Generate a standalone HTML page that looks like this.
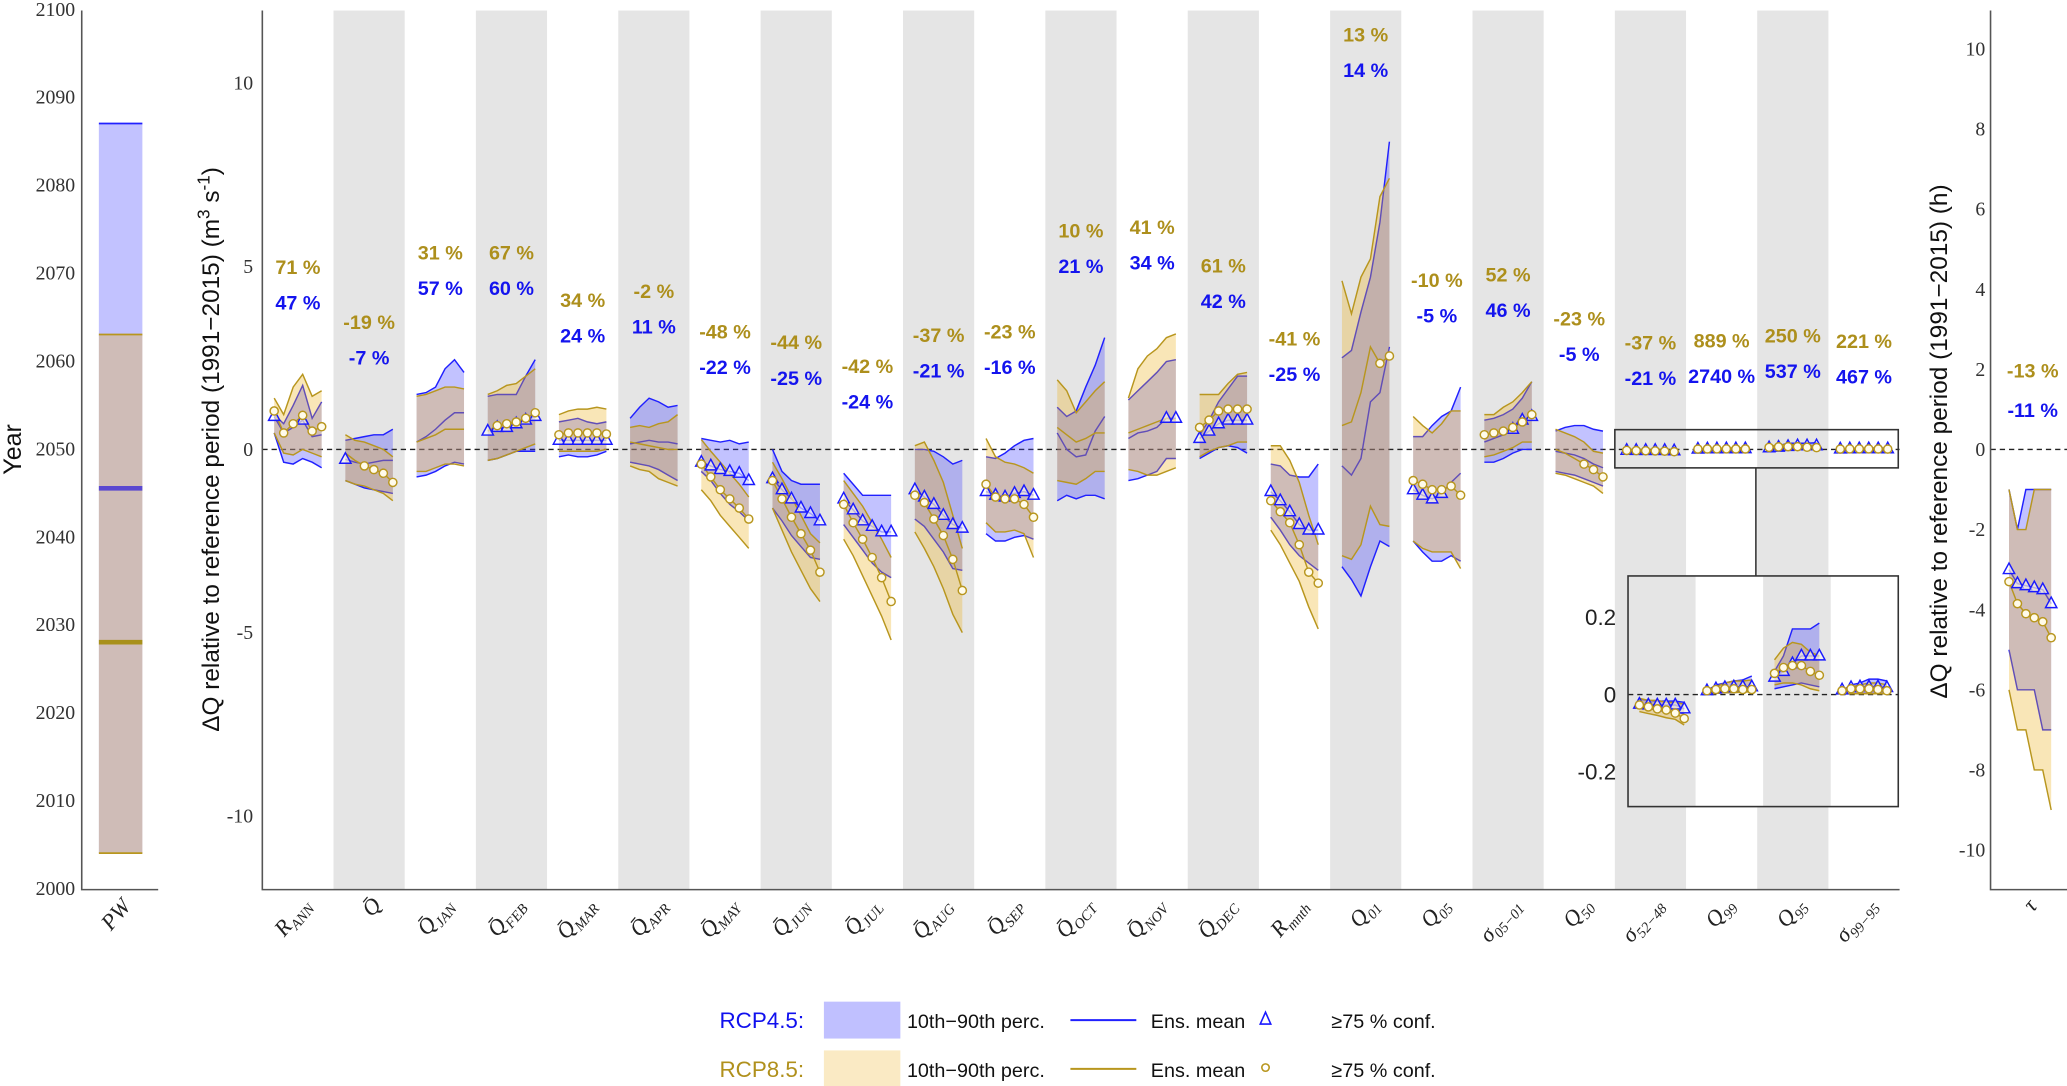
<!DOCTYPE html>
<html><head><meta charset="utf-8">
<style>
html,body{margin:0;padding:0;background:#fff;}
svg{display:block;}
.tk{font-family:"Liberation Serif",serif;font-size:15px;fill:#333;}
.pct{font-family:"Liberation Sans",sans-serif;font-size:15px;font-weight:bold;}
.lg{font-family:"Liberation Sans",sans-serif;font-size:15px;fill:#111;}
</style></head>
<body>
<svg id="fig" xmlns="http://www.w3.org/2000/svg" width="2067" height="1086" viewBox="0 0 1568 824" preserveAspectRatio="none">
  <rect x="0" y="0" width="1568" height="824" fill="#fff"/>
  <g id="pw"></g>
  <g id="main"></g>
  <g id="tau"></g>
  <g id="legend">
    <text x="610" y="780" text-anchor="end" font-family="Liberation Sans, sans-serif" font-size="17" fill="#1010ee">RCP4.5:</text>
    <rect x="625" y="760" width="58" height="28" fill="#c0c0ff"/>
    <text x="688" y="780" class="lg">10th−90th perc.</text>
    <line x1="812" y1="774" x2="862" y2="774" stroke="#2020ff" stroke-width="1.5"/>
    <text x="873" y="780" class="lg">Ens. mean</text>
    <path d="M960,768 L956,777 L964,777 Z" fill="#fff" stroke="#1a1aff" stroke-width="1.2"/>
    <text x="1010" y="780" class="lg">≥75 % conf.</text>
    <text x="610" y="817" text-anchor="end" font-family="Liberation Sans, sans-serif" font-size="17" fill="#b0901c">RCP8.5:</text>
    <rect x="625" y="797" width="58" height="28" fill="#faeac4"/>
    <text x="688" y="817" class="lg">10th−90th perc.</text>
    <line x1="812" y1="811" x2="862" y2="811" stroke="#b8961e" stroke-width="1.5"/>
    <text x="873" y="817" class="lg">Ens. mean</text>
    <circle cx="960" cy="810" r="2.8" fill="#fff" stroke="#b8961e" stroke-width="1.2"/>
    <text x="1010" y="817" class="lg">≥75 % conf.</text>
  </g>
</svg>
<script>
// ---------- DATA ----------
const categories = ["R_ANN","Q̄","Q̄_JAN","Q̄_FEB","Q̄_MAR","Q̄_APR","Q̄_MAY","Q̄_JUN","Q̄_JUL","Q̄_AUG","Q̄_SEP","Q̄_OCT","Q̄_NOV","Q̄_DEC","R_mnth","Q_01","Q_05","σ_05−01","Q_50","σ_52−48","Q_99","Q_95","σ_99−95"];
const goldPct = ["71 %","-19 %","31 %","67 %","34 %","-2 %","-48 %","-44 %","-42 %","-37 %","-23 %","10 %","41 %","61 %","-41 %","13 %","-10 %","52 %","-23 %","-37 %","889 %","250 %","221 %"];
const bluePct = ["47 %","-7 %","57 %","60 %","24 %","11 %","-22 %","-25 %","-24 %","-21 %","-16 %","21 %","34 %","42 %","-25 %","14 %","-5 %","46 %","-5 %","-21 %","2740 %","537 %","467 %"];
const yTicksMain = [10,5,0,-5,-10];
const yearTicks = [2100,2090,2080,2070,2060,2050,2040,2030,2020,2010,2000];
const tauTicks = [10,8,6,4,2,0,-2,-4,-6,-8,-10];
const insetTicks = [0.2,0,-0.2];

const b90 = [
 [0.95,0.7,1.2,1.75,0.85,1.3],[0.25,0.3,0.35,0.4,0.4,0.55],[1.5,1.55,1.7,2.2,2.45,2.1],[1.45,1.5,1.5,1.5,2.0,2.45],
 [0.75,0.8,0.85,0.75,0.7,0.75],[0.85,1.15,1.4,1.3,1.15,1.2],[0.3,0.25,0.2,0.25,0.15,0.2],[0.0,-0.6,-0.85,-0.95,-0.95,-0.95],
 [-0.65,-0.95,-1.25,-1.25,-1.25,-1.25],[0.0,0.0,-0.05,-0.2,-0.4,-0.3],[-0.2,-0.25,-0.1,0.1,0.25,0.3],[1.15,0.9,1.05,1.7,2.3,3.05],
 [1.35,1.6,1.85,2.1,2.4,2.45],[0.4,0.8,1.3,1.65,2.0,2.0],[-0.4,-0.45,-0.7,-0.75,-0.75,-0.4],[2.5,2.7,3.75,4.7,6.2,8.4],
 [0.35,0.35,0.65,0.9,1.05,1.7],[0.8,0.85,0.95,1.1,1.4,1.85],[0.5,0.6,0.65,0.65,0.55,0.5]];
const bMean = [
 [0.9,0.45,0.6,0.8,0.35,0.4],[-0.27,-0.35,-0.4,-0.35,-0.3,-0.3],[0.2,0.35,0.55,0.8,1.0,1.0],[0.5,0.6,0.6,0.7,0.8,0.9],
 [0.25,0.25,0.25,0.25,0.25,0.25],[0.15,0.2,0.25,0.2,0.2,0.15],[-0.35,-0.45,-0.55,-0.6,-0.65,-0.85],[-0.8,-1.1,-1.35,-1.6,-1.75,-1.95],
 [-1.35,-1.65,-1.95,-2.1,-2.25,-2.25],[-1.1,-1.3,-1.5,-1.8,-2.05,-2.15],[-1.15,-1.25,-1.3,-1.2,-1.15,-1.25],[0.45,0.0,-0.2,-0.15,0.5,0.9],
 [0.3,0.45,0.5,0.6,0.85,0.85],[0.3,0.5,0.7,0.8,0.8,0.8],[-1.15,-1.4,-1.7,-2.05,-2.2,-2.2],[-0.45,-0.7,-0.25,1.3,1.55,2.8],
 [-1.1,-1.25,-1.35,-1.2,-0.9,-0.65],[0.2,0.3,0.4,0.55,0.8,0.9],[-0.05,-0.1,-0.15,-0.25,-0.4,-0.5]];
const b10 = [
 [0.45,-0.35,-0.4,-0.25,-0.35,-0.5],[-0.85,-0.95,-1.05,-1.1,-1.15,-1.2],[-0.75,-0.7,-0.6,-0.45,-0.35,-0.4],[-0.3,-0.25,-0.15,-0.05,-0.05,-0.05],
 [-0.2,-0.15,-0.2,-0.2,-0.15,-0.05],[-0.35,-0.4,-0.45,-0.55,-0.7,-0.85],[-0.6,-0.85,-1.2,-1.5,-1.7,-1.95],[-1.6,-1.95,-2.35,-2.65,-2.95,-3.0],
 [-2.05,-2.4,-2.75,-3.1,-3.35,-3.5],[-1.9,-2.1,-2.45,-2.8,-3.25,-3.3],[-2.3,-2.5,-2.5,-2.4,-2.35,-2.45],[-1.4,-1.25,-1.35,-1.25,-1.25,-1.35],
 [-0.85,-0.8,-0.7,-0.6,-0.25,-0.25],[-0.25,-0.1,0.05,0.1,0.05,-0.1],[-1.85,-2.2,-2.6,-2.9,-3.1,-3.3],[-3.2,-3.55,-4.0,-3.2,-2.5,-2.65],
 [-2.5,-2.8,-3.05,-3.05,-2.9,-3.05],[-0.35,-0.35,-0.25,-0.1,0.0,0.0],[-0.6,-0.65,-0.7,-0.8,-0.9,-1.0]];
const g90 = [
 [1.4,0.95,1.7,2.05,1.45,1.6],[0.4,0.25,0.2,0.1,0.0,-0.2],[1.45,1.5,1.6,1.7,1.7,1.65],[1.5,1.6,1.75,1.8,2.0,2.2],
 [0.95,1.05,1.1,1.1,1.15,1.1],[0.6,0.65,0.6,0.7,0.75,0.95],[0.27,-0.05,-0.35,-0.65,-0.95,-1.3],[-0.35,-0.8,-1.3,-1.8,-2.3,-2.55],
 [-0.85,-1.2,-1.55,-2.0,-2.45,-2.95],[0.1,0.2,-0.3,-0.9,-1.8,-2.7],[0.3,-0.2,-0.35,-0.4,-0.5,-0.65],[1.9,1.6,1.0,1.3,1.6,1.85],
 [1.4,2.2,2.55,2.75,3.05,3.15],[1.5,1.5,1.5,1.8,2.05,2.1],[0.1,0.1,-0.3,-0.9,-1.8,-2.6],[4.6,3.7,4.7,5.2,6.9,7.4],
 [0.9,0.65,0.45,0.7,1.05,1.05],[0.95,0.95,1.15,1.3,1.55,1.85],[0.55,0.45,0.35,0.2,-0.05,-0.1]];
const gMean = [
 [1.05,0.45,0.7,0.93,0.5,0.62],[-0.1,-0.3,-0.45,-0.55,-0.65,-0.9],[0.2,0.3,0.4,0.55,0.55,0.55],[0.5,0.65,0.7,0.75,0.85,1.0],
 [0.4,0.45,0.45,0.45,0.45,0.42],[0.2,0.15,0.1,0.05,0.0,0.0],[-0.4,-0.75,-1.1,-1.35,-1.6,-1.9],[-0.85,-1.35,-1.85,-2.3,-2.75,-3.35],
 [-1.5,-2.0,-2.45,-2.95,-3.5,-4.15],[-1.25,-1.45,-1.9,-2.35,-3.0,-3.85],[-0.95,-1.3,-1.35,-1.35,-1.5,-1.85],[0.6,0.4,0.2,0.3,0.45,0.45],
 [0.45,0.55,0.65,0.75,0.85,0.8],[0.6,0.8,1.05,1.1,1.1,1.1],[-1.4,-1.7,-2.0,-2.6,-3.35,-3.65],[0.65,0.75,1.55,2.8,2.35,2.55],
 [-0.85,-0.95,-1.1,-1.1,-1.0,-1.25],[0.4,0.45,0.5,0.6,0.75,0.95],[0.0,-0.1,-0.25,-0.4,-0.55,-0.75]];
const g10 = [
 [0.45,-0.1,-0.15,0.0,-0.1,-0.2],[-0.85,-0.95,-1.0,-1.1,-1.2,-1.4],[-0.6,-0.6,-0.5,-0.4,-0.4,-0.45],[-0.3,-0.25,-0.15,-0.05,0.05,0.15],
 [-0.05,-0.05,-0.05,-0.05,-0.05,0.0],[-0.45,-0.55,-0.6,-0.8,-0.9,-1.0],[-1.1,-1.4,-1.8,-2.1,-2.4,-2.7],[-1.6,-2.2,-2.8,-3.3,-3.8,-4.15],
 [-2.45,-2.9,-3.45,-4.0,-4.55,-5.2],[-2.25,-2.7,-3.2,-3.8,-4.5,-5.0],[-2.0,-2.25,-2.25,-2.2,-2.3,-2.95],[-0.85,-0.9,-0.95,-0.8,-0.6,-0.6],
 [-0.55,-0.6,-0.7,-0.7,-0.6,-0.5],[-0.2,-0.05,0.05,0.1,0.2,0.2],[-2.2,-2.6,-3.1,-3.6,-4.3,-4.9],[-2.9,-3.0,-2.6,-1.55,-2.05,-2.1],
 [-2.5,-2.7,-2.8,-2.8,-2.8,-3.25],[-0.2,-0.15,-0.05,0.05,0.2,0.2],[-0.65,-0.7,-0.8,-0.9,-1.0,-1.2]];
const bMarks = [[0,3],[0],[],[0,1,2,3,4,5],[0,1,2,3,4,5],[],[0,1,2,3,4,5],[0,1,2,3,4,5],[0,1,2,3,4,5],[0,1,2,3,4,5],[0,1,2,3,4,5],[],[4,5],[0,1,2,3,4,5],[0,1,2,3,4,5],[],[0,1,2,3],[3,4,5],[]];
const gMarks = [[0,1,2,3,4,5],[2,3,4,5],[],[1,2,3,4,5],[0,1,2,3,4,5],[],[0,1,2,3,4,5],[0,1,2,3,4,5],[0,1,2,3,4,5],[0,1,2,3,4,5],[0,1,2,3,4,5],[],[],[0,1,2,3,4,5],[0,1,2,3,4,5],[4,5],[0,1,2,3,4,5],[0,1,2,3,4,5],[3,4,5]];

// near-zero series (σ52-48, Q99, Q95, σ99-95), also shown in zoomed inset
const inB90 = [[-0.012,-0.015,-0.017,-0.017,-0.017,-0.02],[0.01,0.025,0.03,0.035,0.038,0.048],[0.06,0.1,0.17,0.17,0.17,0.185],[0.01,0.025,0.03,0.04,0.04,0.035]];
const inBMean = [[-0.025,-0.027,-0.027,-0.027,-0.027,-0.037],[0.01,0.015,0.018,0.02,0.02,0.02],[0.045,0.06,0.08,0.1,0.1,0.1],[0.012,0.018,0.02,0.02,0.02,0.018]];
const inB10 = [[-0.03,-0.035,-0.04,-0.045,-0.045,-0.05],[0.0,0.003,0.005,0.005,0.007,0.008],[0.015,0.02,0.025,0.03,0.025,0.02],[0.002,0.002,0.003,0.003,0.003,0.002]];
const inG90 = [[-0.01,-0.015,-0.015,-0.02,-0.02,-0.025],[0.01,0.02,0.03,0.035,0.035,0.038],[0.09,0.12,0.135,0.13,0.11,0.1],[0.01,0.02,0.025,0.03,0.03,0.025]];
const inGMean = [[-0.027,-0.032,-0.037,-0.04,-0.048,-0.062],[0.01,0.013,0.015,0.015,0.013,0.013],[0.055,0.07,0.075,0.075,0.06,0.05],[0.01,0.015,0.015,0.015,0.013,0.01]];
const inG10 = [[-0.044,-0.049,-0.054,-0.06,-0.064,-0.079],[0.0,0.003,0.005,0.005,0.006,0.007],[0.025,0.03,0.03,0.025,0.015,0.01],[0.002,0.002,0.002,0.002,0.002,0.002]];
const inMarks = [0,1,2,3,4,5];

// τ panel
const tauB90 = [-1,-2,-1,-1,-1,-1];
const tauBMean = [-3.0,-3.35,-3.4,-3.45,-3.5,-3.85];
const tauB10 = [-5,-6,-6,-6,-7,-7];
const tauG90 = [-1,-2,-2,-1,-1,-1];
const tauGMean = [-3.3,-3.85,-4.1,-4.2,-4.3,-4.7];
const tauG10 = [-6,-7,-7,-8,-8,-9];
const tauGoldPct = "-13 %";
const tauBluePct = "-11 %";

// PW panel (years): [p10, mean, p90]
const pwBlue = [2004, 2045.5, 2087];
const pwGold = [2004, 2028, 2063];

// ---------- HELPERS ----------
const NS = "http://www.w3.org/2000/svg";
function mk(tag, attrs, parent){
  const e = document.createElementNS(NS, tag);
  for (const k in attrs) e.setAttribute(k, attrs[k]);
  parent.appendChild(e);
  return e;
}
const BLUE_FILL = "rgba(64,64,255,0.32)", GOLD_FILL = "rgba(237,177,32,0.32)";
const BLUE_LINE = "#2020ff", GOLD_LINE = "#b8961e";

const yMain = v => 341 - v * 27.8;
const xCat = i => 226 + 54 * i;
const yIn = v => 527 - v * 293;
const xIn = k => 1235 + 51.25 * (k + 0.5);
const yTau = v => 341 - v * 30.4;
const yYear = v => 674 - (v - 2000) * 6.67;

function pathD(xs, ys){ return xs.map((x,j)=> (j? "L":"M") + x.toFixed(1) + "," + ys[j].toFixed(1)).join(" "); }

function drawGroup(parent, xs, yf, d, name){
  const g = mk("g", {}, parent);
  
  
  const yb90 = d.b90.map(yf), yb10 = d.b10.map(yf), yg90 = d.g90.map(yf), yg10 = d.g10.map(yf);
  const rx = xs.slice().reverse();
  const bandB = mk("path", {d: pathD(xs, yb90) + " " + pathD(rx, yb10.slice().reverse()).replace("M","L") + " Z", fill: BLUE_FILL, stroke: "none"}, g);
  
  
  [[yb90,'rcp45-p90'],[yb10,'rcp45-p10'],[d.bm.map(yf),'rcp45-mean']].forEach(([ys,n])=>{
    const l = mk("path", {d: pathD(xs, ys), fill: "none", stroke: BLUE_LINE, "stroke-width": 1.1}, g);
    
    
  });
  const bandG = mk("path", {d: pathD(xs, yg90) + " " + pathD(rx, yg10.slice().reverse()).replace("M","L") + " Z", fill: GOLD_FILL, stroke: "none"}, g);
  
  
  [[yg90,'rcp85-p90'],[yg10,'rcp85-p10'],[d.gm.map(yf),'rcp85-mean']].forEach(([ys,n])=>{
    const l = mk("path", {d: pathD(xs, ys), fill: "none", stroke: GOLD_LINE, "stroke-width": 1.1}, g);
    
    
  });
  d.bMk.forEach(j=>{
    const x = xs[j], y = yf(d.bm[j]);
    const t = mk("path", {d:`M${x},${y-5} L${x-4.3},${y+3} L${x+4.3},${y+3} Z`, fill:"rgba(255,255,255,0.55)", stroke:"#1a1aff", "stroke-width":1.1}, g);
    
    
  });
  d.gMk.forEach(j=>{
    const c = mk("circle", {cx: xs[j], cy: yf(d.gm[j]), r: 3.1, fill:"#fffbea", stroke: GOLD_LINE, "stroke-width":1.1}, g);
    
    
  });
}
function addText(parent, x, y, str, attrs, name){
  const t = mk("text", Object.assign({x:x, y:y}, attrs), parent);
  t.textContent = str;
  
  
  return t;
}
function mathLabel(parent, x, y, label, name){
  const parts = label.split("_");
  const t = mk("text", {x:0, y:0, "text-anchor":"end", "font-family":"Liberation Serif, serif", "font-style":"italic", "font-size":17, fill:"#222", transform:`translate(${x},${y}) rotate(-50)`}, parent);
  
  
  const a = mk("tspan", {}, t); a.textContent = parts[0];
  if (parts[1]){ const b = mk("tspan", {"font-size":11, dy:4}, t); b.textContent = parts[1]; }
  return t;
}

// ---------- PW PANEL ----------
const pw = document.getElementById("pw");
yearTicks.forEach(v=> addText(pw, 57, yYear(v)+5, String(v), {class:"tk", "text-anchor":"end"}, "year-tick-" + v));
addText(pw, 0, 0, "Year", {transform:"translate(16,341) rotate(-90)", "text-anchor":"middle", "font-family":"Liberation Sans, sans-serif", "font-size":19, fill:"#111"}, "y-axis-title-year");
(function(){
  let r = mk("rect", {x:75, y:yYear(pwBlue[2]), width:33, height:yYear(pwBlue[0])-yYear(pwBlue[2]), fill:BLUE_FILL}, pw);
   
  r = mk("rect", {x:75, y:yYear(pwGold[2]), width:33, height:yYear(pwGold[0])-yYear(pwGold[2]), fill:GOLD_FILL}, pw);
   
  let l = mk("line", {x1:75, x2:108, y1:yYear(pwBlue[2]), y2:yYear(pwBlue[2]), stroke:BLUE_LINE, "stroke-width":1.3}, pw);
   
  l = mk("line", {x1:75, x2:108, y1:yYear(pwGold[2]), y2:yYear(pwGold[2]), stroke:GOLD_LINE, "stroke-width":1.3}, pw);
   
  l = mk("line", {x1:75, x2:108, y1:yYear(pwBlue[1]), y2:yYear(pwBlue[1]), stroke:"#5a48d0", "stroke-width":3.5}, pw);
   
  l = mk("line", {x1:75, x2:108, y1:yYear(pwGold[1]), y2:yYear(pwGold[1]), stroke:"#a8901a", "stroke-width":3.5}, pw);
   
  l = mk("line", {x1:75, x2:108, y1:yYear(pwGold[0]), y2:yYear(pwGold[0]), stroke:GOLD_LINE, "stroke-width":1.3}, pw);
   
  l = mk("path", {d:"M62,8 L62,675 L120,675", fill:"none", stroke:"#555", "stroke-width":1.2}, pw);
   
  mathLabel(pw, 100, 688, "PW", "x-label-pw");
})();

// ---------- MAIN PANEL ----------
const main = document.getElementById("main");
for (let i = 0; i < categories.length; i++){
  if (i % 2 === 1){
    const r = mk("rect", {x: xCat(i)-27, y:8, width:54, height:667, fill:"#e5e5e5"}, main);
    
    
  }
}
yTicksMain.forEach(v=> addText(main, 192, yMain(v)+5, String(v), {class:"tk", "text-anchor":"end"}, "y-tick-" + v));
(function(){
  const t = mk("text", {x:0, y:0, transform:"translate(166,341) rotate(-90)", "text-anchor":"middle", "font-family":"Liberation Sans, sans-serif", "font-size":18.5, fill:"#111"}, main);
  
  
  const a = mk("tspan", {}, t); a.textContent = "ΔQ relative to reference period (1991−2015) (m";
  const b = mk("tspan", {dy:-7, "font-size":13}, t); b.textContent = "3";
  const c = mk("tspan", {dy:7}, t); c.textContent = " s";
  const d = mk("tspan", {dy:-7, "font-size":13}, t); d.textContent = "-1";
  const e = mk("tspan", {dy:7}, t); e.textContent = ")";
})();
(function(){
  const l = mk("line", {x1:199, x2:1441, y1:yMain(0), y2:yMain(0), stroke:"#222", "stroke-width":1.1, "stroke-dasharray":"4,3"}, main);
  
  
})();
const allB90 = b90.concat(inB90), allBM = bMean.concat(inBMean), allB10 = b10.concat(inB10);
const allG90 = g90.concat(inG90), allGM = gMean.concat(inGMean), allG10 = g10.concat(inG10);
const allBMk = bMarks.concat([inMarks,inMarks,inMarks,inMarks]), allGMk = gMarks.concat([inMarks,inMarks,inMarks,inMarks]);
for (let i = 0; i < categories.length; i++){
  const xs = [0,1,2,3,4,5].map(j => xCat(i) - 18 + 7.2 * j);
  drawGroup(main, xs, yMain, {b90:allB90[i], bm:allBM[i], b10:allB10[i], g90:allG90[i], gm:allGM[i], g10:allG10[i], bMk:allBMk[i], gMk:allGMk[i]}, "cat-" + i);
  const mx = Math.max(...allB90[i], ...allG90[i]);
  const by = yMain(mx) - 54;
  addText(main, xCat(i), by + 5, bluePct[i], {class:"pct", "text-anchor":"middle", fill:"#1414ee"}, "pct-rcp45-" + i);
  addText(main, xCat(i), by - 22, goldPct[i], {class:"pct", "text-anchor":"middle", fill:"#ad8f1c"}, "pct-rcp85-" + i);
  mathLabel(main, xCat(i) + 10, 687, categories[i], "x-label-" + i);
}
(function(){
  let l = mk("path", {d:"M199,8 L199,675 L1441,675", fill:"none", stroke:"#555", "stroke-width":1.2}, main);
   
  l = mk("rect", {x:1225, y:326, width:215, height:29, fill:"none", stroke:"#333", "stroke-width":1.2}, main);
   
  l = mk("line", {x1:1332, x2:1332, y1:355, y2:437, stroke:"#333", "stroke-width":1.2}, main);
   
  // inset
  const ins = mk("g", {}, main);
   
  l = mk("rect", {x:1235, y:437, width:205, height:175, fill:"#fff"}, ins);
   
  [0,2].forEach(k=>{
    const r = mk("rect", {x:1235 + 51.25*k, y:437, width:51.25, height:175, fill:"#e5e5e5"}, ins);
     
  });
  l = mk("line", {x1:1235, x2:1440, y1:yIn(0), y2:yIn(0), stroke:"#222", "stroke-width":1.1, "stroke-dasharray":"4,3"}, ins);
   
  for (let k = 0; k < 4; k++){
    const xs = [0,1,2,3,4,5].map(j => xIn(k) - 17 + 6.8 * j);
    drawGroup(ins, xs, yIn, {b90:inB90[k], bm:inBMean[k], b10:inB10[k], g90:inG90[k], gm:inGMean[k], g10:inG10[k], bMk:inMarks, gMk:inMarks}, "inset-" + k);
  }
  insetTicks.forEach(v=> addText(ins, 1226, yIn(v)+6, String(v), {"text-anchor":"end", "font-family":"Liberation Sans, sans-serif", "font-size":17, fill:"#222"}, "inset-tick-" + v));
  l = mk("rect", {x:1235, y:437, width:205, height:175, fill:"none", stroke:"#333", "stroke-width":1.2}, ins);
   
})();

// ---------- TAU PANEL ----------
const tau = document.getElementById("tau");
tauTicks.forEach(v=> addText(tau, 1506, yTau(v)+5, String(v), {class:"tk", "text-anchor":"end"}, "tau-tick-" + v));
addText(tau, 0, 0, "ΔQ relative to reference period (1991−2015) (h)", {transform:"translate(1477,335) rotate(-90)", "text-anchor":"middle", "font-family":"Liberation Sans, sans-serif", "font-size":18.5, fill:"#111"}, "y-axis-title-tau");
(function(){
  let l = mk("line", {x1:1510, x2:1568, y1:yTau(0), y2:yTau(0), stroke:"#222", "stroke-width":1.1, "stroke-dasharray":"4,3"}, tau);
   
  const xs = [0,1,2,3,4,5].map(j => 1524 + 6.4 * j);
  drawGroup(tau, xs, yTau, {b90:tauB90, bm:tauBMean, b10:tauB10, g90:tauG90, gm:tauGMean, g10:tauG10, bMk:inMarks, gMk:inMarks}, "tau");
  const mx = Math.max(...tauB90, ...tauG90);
  const by = yTau(mx) - 60;
  addText(tau, 1542, by + 5, tauBluePct, {class:"pct", "text-anchor":"middle", fill:"#1414ee"}, "tau-pct-rcp45");
  addText(tau, 1542, by - 25, tauGoldPct, {class:"pct", "text-anchor":"middle", fill:"#ad8f1c"}, "tau-pct-rcp85");
  l = mk("path", {d:"M1510,8 L1510,675 L1568,675", fill:"none", stroke:"#555", "stroke-width":1.2}, tau);
   
  mathLabel(tau, 1546, 688, "τ", "x-label-tau");
})();
</script>
</body></html>
